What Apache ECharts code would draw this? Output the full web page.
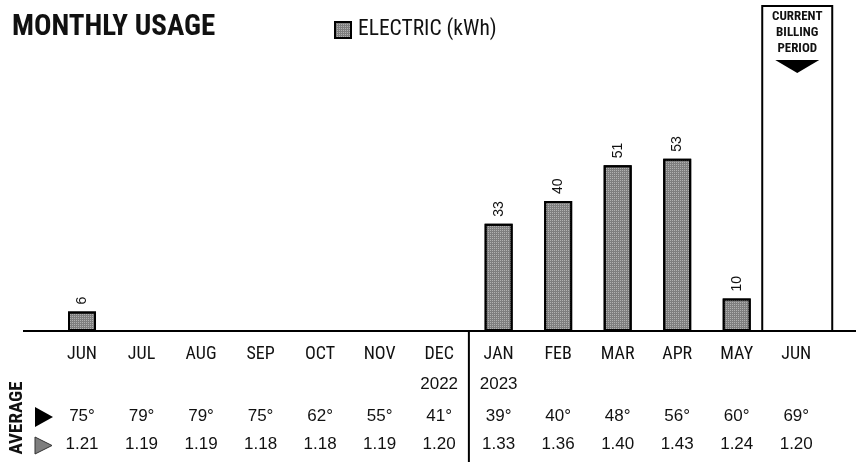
<!DOCTYPE html>
<html>
<head>
<meta charset="utf-8">
<script src="https://cdn.jsdelivr.net/npm/echarts@6/dist/echarts.min.js"></script>
<style>
  html, body { margin: 0; padding: 0; background: #fff; }
  #chart { width: 864px; height: 462px; }
</style>
</head>
<body>
<div id="chart"></div>
<script>
// Billing months, oldest first; the last one is the current billing period
const months = ['JUN', 'JUL', 'AUG', 'SEP', 'OCT', 'NOV', 'DEC', 'JAN', 'FEB', 'MAR', 'APR', 'MAY', 'JUN'];
const years = ['', '', '', '', '', '', '2022', '2023', '', '', '', '', ''];
// Electric usage per month in kWh (null = no usage billed)
const electricKwh = [6, null, null, null, null, null, null, 33, 40, 51, 53, 10, null];
// Average temperature (°F) and average daily kWh per month
const avgTemps = [75, 79, 79, 75, 62, 55, 41, 39, 40, 48, 56, 60, 69];
const avgDailyKwh = [1.21, 1.19, 1.19, 1.18, 1.18, 1.19, 1.20, 1.33, 1.36, 1.40, 1.43, 1.24, 1.20];

const NARROW = '"Roboto Condensed", "DejaVu Sans Condensed", sans-serif';
const SANS = '"Liberation Sans", Arial, sans-serif';
const INK = '#111';
const BAR_FILL = '#7e7e7e';
// fine speckle over the bar fill, like a printed halftone
const GRAIN = {
  symbol: 'rect',
  symbolSize: 1,
  dashArrayX: [1, 1],
  dashArrayY: [1, 1],
  color: 'rgba(255,255,255,0.4)'
};

const chart = echarts.init(document.getElementById('chart'), null, { renderer: 'canvas' });

function rowAxis(data, offset, font, size, margin) {
  return {
    type: 'category',
    data: data,
    position: 'bottom',
    offset: offset,
    boundaryGap: true,
    axisLine: { show: false },
    axisTick: { show: false },
    splitLine: { show: false },
    axisLabel: {
      interval: 0,
      margin: margin,
      color: INK,
      fontFamily: font,
      fontSize: size
    }
  };
}

chart.setOption({
  animation: false,
  title: {
    text: 'MONTHLY USAGE',
    left: 12,
    top: 13,
    padding: 0,
    textStyle: { fontFamily: NARROW, fontWeight: 'bold', fontSize: 29, color: INK }
  },
  legend: {
    left: 334,
    top: 19,
    padding: 0,
    itemWidth: 16,
    itemHeight: 16,
    icon: 'rect',
    textStyle: { fontFamily: NARROW, fontSize: 21.5, color: INK, padding: [0, 0, 0, 2] },
    data: ['ELECTRIC (kWh)']
  },
  grid: { left: 52.25, right: 38, top: 6, bottom: 131 },
  xAxis: [
    rowAxis(months, 0, NARROW, 18, 14),
    rowAxis(years, 31, SANS, 17, 14),
    rowAxis(avgTemps.map(t => t + '°'), 63, SANS, 17, 14),
    rowAxis(avgDailyKwh.map(v => v.toFixed(2)), 91, SANS, 17, 14)
  ],
  yAxis: {
    type: 'value',
    min: 0,
    max: 100,
    show: false,
    splitLine: { show: false }
  },
  series: [{
    name: 'ELECTRIC (kWh)',
    type: 'bar',
    xAxisIndex: 0,
    data: electricKwh,
    barWidth: 28,
    itemStyle: { color: BAR_FILL, borderColor: '#000', borderWidth: 2, decal: GRAIN },
    label: {
      show: true,
      position: 'top',
      distance: 7,
      rotate: 90,
      align: 'left',
      verticalAlign: 'middle',
      fontFamily: SANS,
      fontSize: 14,
      color: INK
    }
  }]
});

// Decorations placed from the axis scales: baseline, year divider,
// current-billing-period frame, and the averages legend on the left.
const lastIdx = months.length - 1;
const px = (i, v) => chart.convertToPixel({ xAxisIndex: 0, yAxisIndex: 0 }, [i, v]);
const baseY = px(0, 0)[1];
const topY = px(0, 100)[1];
const divX = (px(6, 0)[0] + px(7, 0)[0]) / 2;
const curX = px(lastIdx, 0)[0] + 1;
const boxHalf = 35;
const boxLabel = { fontFamily: NARROW, fontWeight: 'bold', fontSize: 13, fill: INK, align: 'center', verticalAlign: 'middle' };

chart.setOption({
  graphic: [
    { type: 'line', shape: { x1: 23, y1: baseY, x2: 856, y2: baseY }, style: { stroke: '#000', lineWidth: 2 }, z: 10 },
    { type: 'line', shape: { x1: divX, y1: baseY, x2: divX, y2: 462 }, style: { stroke: '#000', lineWidth: 2 }, z: 10 },
    { type: 'rect', shape: { x: curX - boxHalf, y: topY, width: boxHalf * 2, height: baseY - topY }, style: { fill: 'none', stroke: '#000', lineWidth: 2 }, z: 10 },
    { type: 'text', x: curX, y: 17, style: Object.assign({ text: 'CURRENT' }, boxLabel) },
    { type: 'text', x: curX, y: 33, style: Object.assign({ text: 'BILLING' }, boxLabel) },
    { type: 'text', x: curX, y: 49, style: Object.assign({ text: 'PERIOD' }, boxLabel) },
    { type: 'polygon', shape: { points: [[curX - 22, 60], [curX + 22, 60], [curX, 73]] }, style: { fill: '#000' } },
    { type: 'text', x: 17, y: 418, rotation: Math.PI / 2, style: { text: 'AVERAGE', fontFamily: NARROW, fontWeight: 'bold', fontSize: 19, fill: INK, align: 'center', verticalAlign: 'middle' } },
    { type: 'polygon', shape: { points: [[35, 407], [53, 417], [35, 427]] }, style: { fill: '#000' } },
    { type: 'polygon', shape: { points: [[35, 437], [52, 445.5], [35, 454]] }, style: { fill: BAR_FILL, stroke: '#333', lineWidth: 1 } }
  ]
});
</script>
</body>
</html>
